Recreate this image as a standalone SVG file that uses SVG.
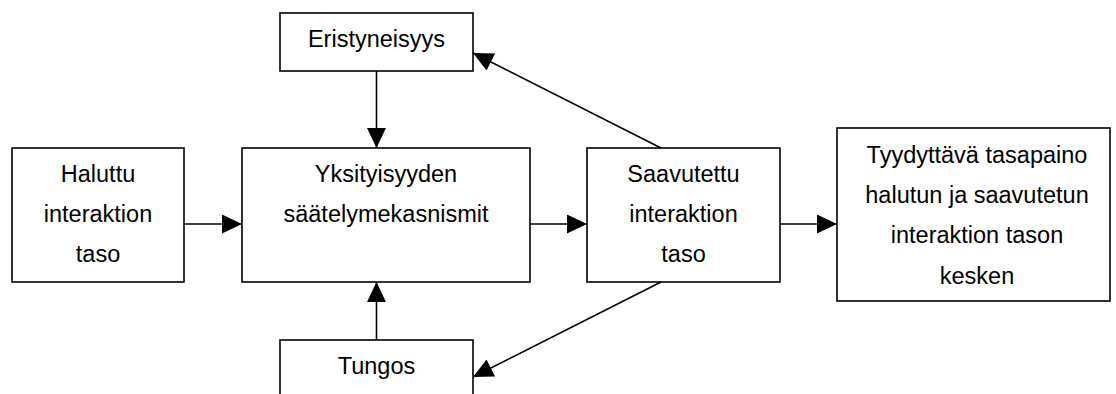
<svg xmlns="http://www.w3.org/2000/svg" width="1116" height="394" viewBox="0 0 1116 394">
<style>
.box{fill:#fff;stroke:#000;stroke-width:1.6}
.t{font-family:"Liberation Sans",Arial,sans-serif;font-size:23.5px;fill:#000;text-anchor:middle}
.c{stroke:#000;stroke-width:1.6;fill:none;marker-end:url(#ah)}
</style>
<defs>
<marker id="ah" markerUnits="userSpaceOnUse" markerWidth="20" markerHeight="19" refX="20" refY="9.5" orient="auto" viewBox="0 0 20 19">
<path d="M0,0 L20,9.5 L0,19 Z" fill="#000"/>
</marker>
</defs>
<rect width="1116" height="394" fill="#fff"/>
<g id="eristyneisyys">
<rect class="box" x="280" y="13" width="193" height="58"/>
<text class="t" x="376.5" y="47">Eristyneisyys</text>
</g>
<g id="haluttu">
<rect class="box" x="12" y="148" width="172" height="134"/>
<text class="t" x="98" y="182">Haluttu</text>
<text class="t" x="98" y="222">interaktion</text>
<text class="t" x="98" y="262">taso</text>
</g>
<g id="yksityisyyden">
<rect class="box" x="242" y="148" width="288" height="134"/>
<text class="t" x="386" y="182">Yksityisyyden</text>
<text class="t" x="386" y="222">säätelymekasnismit</text>
</g>
<g id="saavutettu">
<rect class="box" x="587" y="148" width="193" height="134"/>
<text class="t" x="683.5" y="182">Saavutettu</text>
<text class="t" x="683.5" y="222">interaktion</text>
<text class="t" x="683.5" y="262">taso</text>
</g>
<g id="tyydyttava">
<rect class="box" x="837" y="128" width="273" height="173"/>
<text class="t" x="977" y="163">Tyydyttävä tasapaino</text>
<text class="t" x="977" y="203">halutun ja saavutetun</text>
<text class="t" x="977" y="243">interaktion tason</text>
<text class="t" x="977" y="284">kesken</text>
</g>
<g id="tungos">
<rect class="box" x="280" y="340" width="193" height="80"/>
<text class="t" x="376.5" y="374">Tungos</text>
</g>
<g id="connectors">
<line class="c" x1="376.5" y1="71" x2="376.5" y2="148"/>
<line class="c" x1="376.5" y1="340" x2="376.5" y2="282"/>
<line class="c" x1="184" y1="224" x2="242" y2="224"/>
<line class="c" x1="530" y1="224" x2="587" y2="224"/>
<line class="c" x1="780" y1="224" x2="837" y2="224"/>
<line class="c" x1="661" y1="148" x2="473" y2="53"/>
<line class="c" x1="661" y1="282" x2="473" y2="377"/>
</g>
</svg>
